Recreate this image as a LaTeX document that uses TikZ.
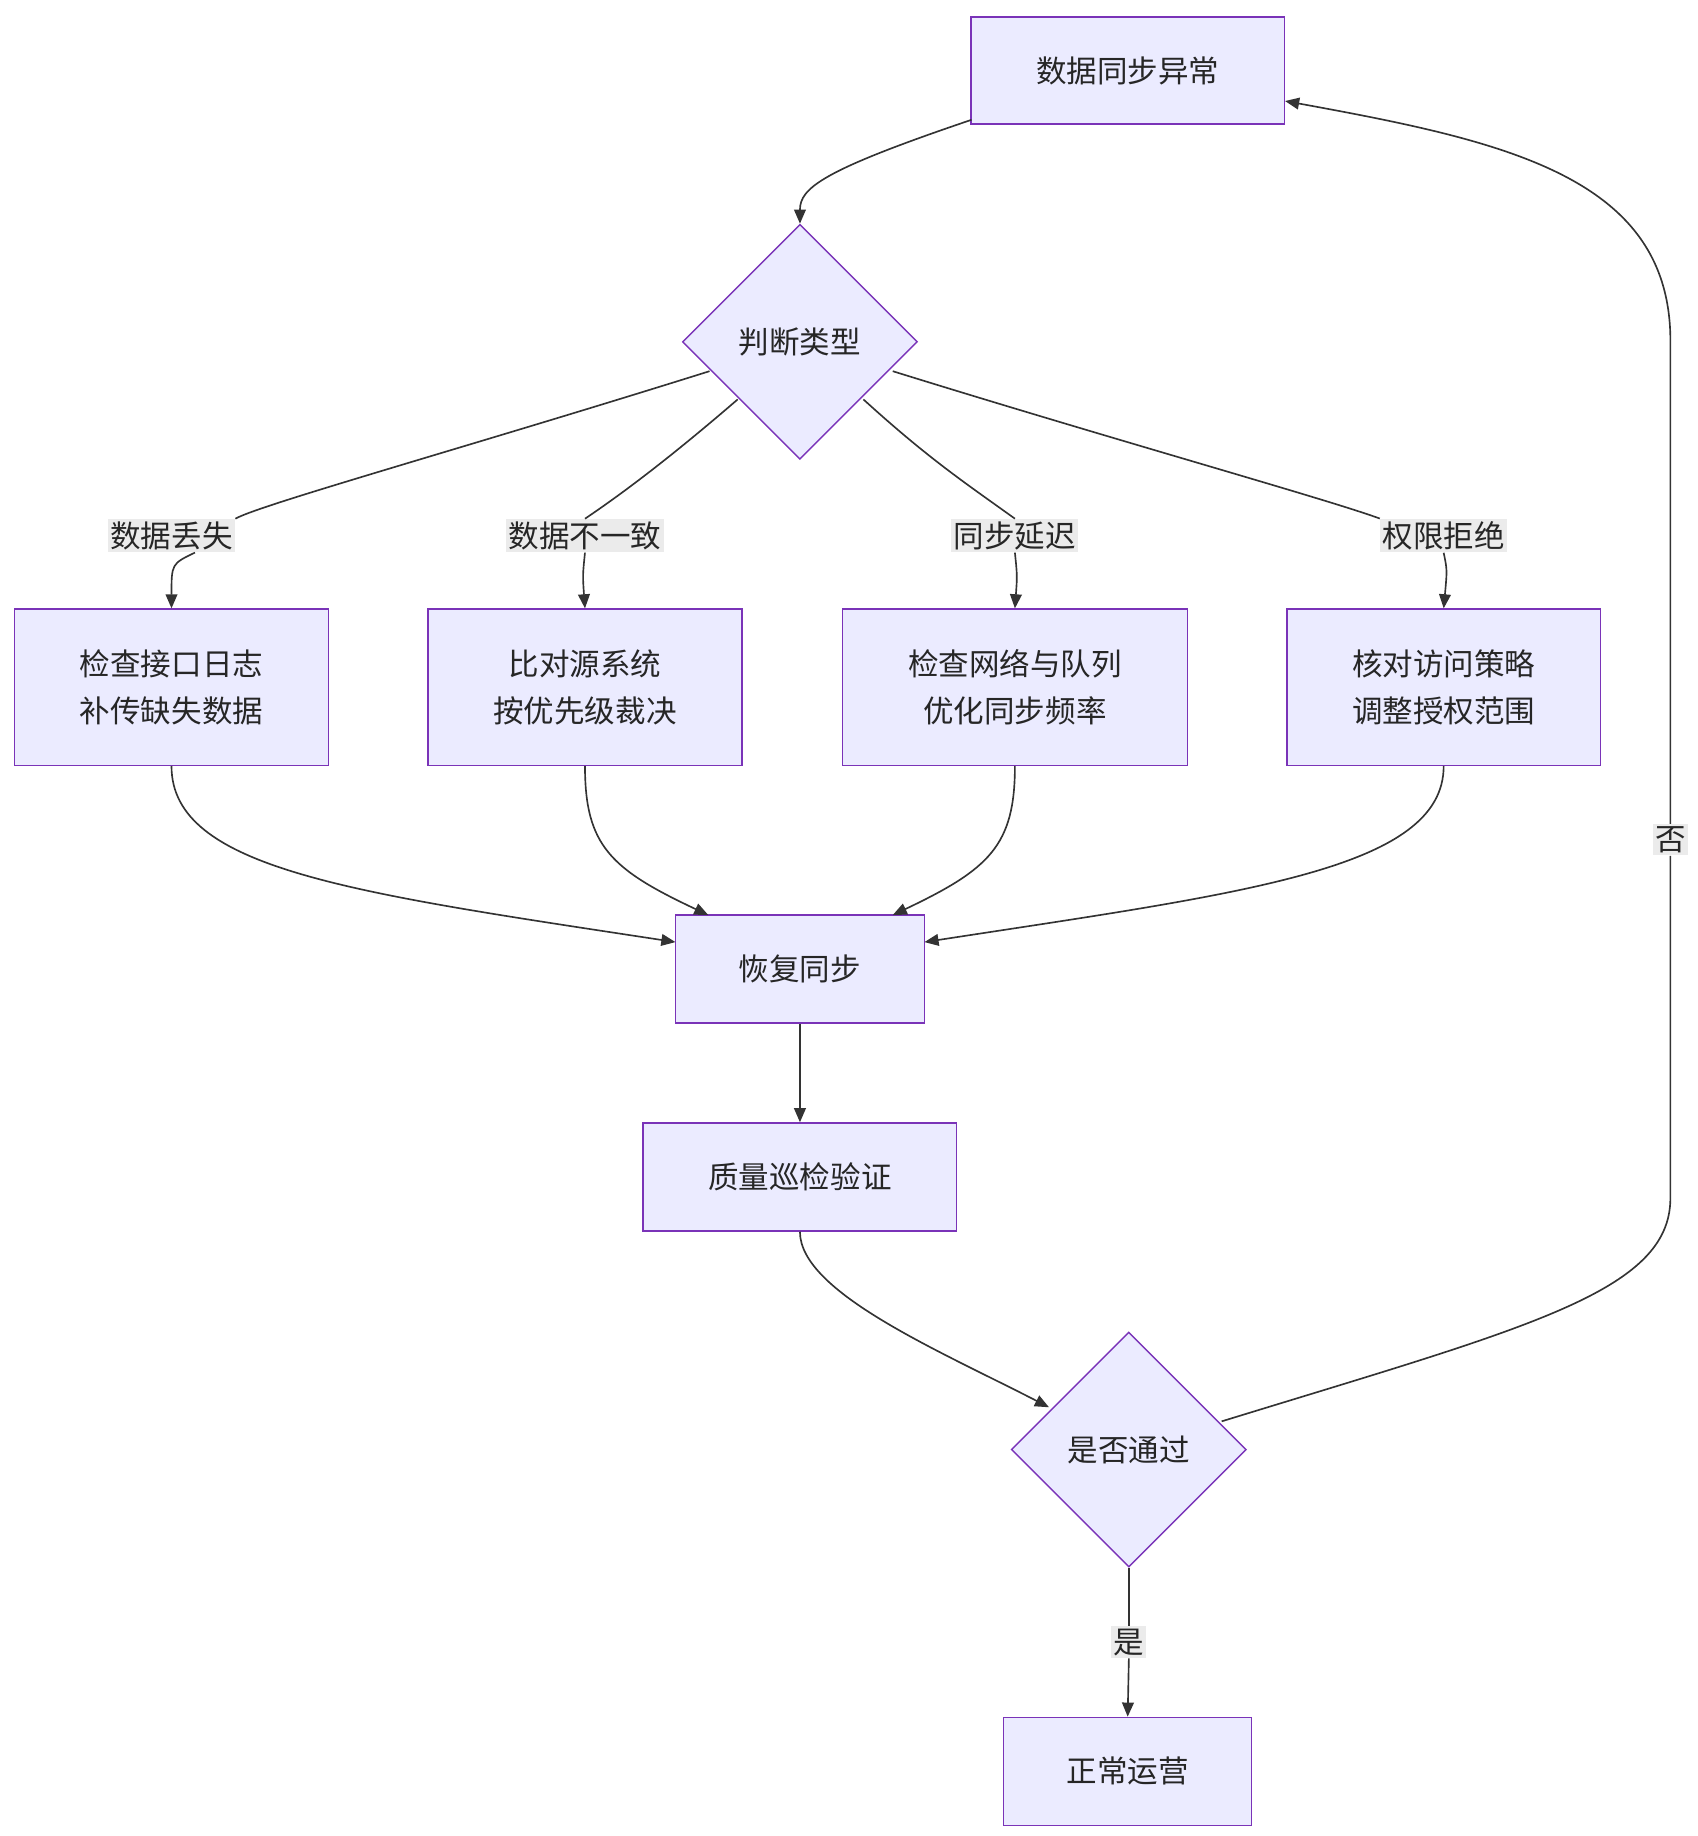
\documentclass[tikz,border=0pt]{standalone}
\usepackage{fontspec}
\setmainfont{Noto Sans CJK SC}
\usetikzlibrary{shapes.geometric,arrows.meta}
\begin{document}
\begin{tikzpicture}[x=0.5pt,y=-0.5pt,
 font=\fontsize{13}{20}\selectfont,
 box/.style={draw=violet!70!blue!80,fill=blue!8,line width=0.6pt,inner sep=0pt,align=center,text=black!85},
 dia/.style={draw=violet!70!blue!80,fill=blue!8,line width=0.6pt,diamond,minimum width=100pt,minimum height=100pt,inner sep=0pt,text=black!85},
 lab/.style={fill=black!8,inner sep=1pt,text=black!85},
 ed/.style={draw=black!80,line width=0.7pt,-{Triangle[length=6pt,width=5pt]}},
 ln/.style={draw=black!80,line width=0.7pt}]
\useasboundingbox (0,0) rectangle (1445,1563);
\node[box,minimum width=133.5pt,minimum height=45.5pt] (a) at (960,60) {数据同步异常};
\node[dia] (b) at (681,291) {判断类型};
\node[box,minimum width=133.5pt,minimum height=66.5pt] (c1) at (146,585) {检查接口日志\\补传缺失数据};
\node[box,minimum width=133.5pt,minimum height=66.5pt] (c2) at (498,585) {比对源系统\\按优先级裁决};
\node[box,minimum width=147pt,minimum height=66.5pt] (c3) at (864,585) {检查网络与队列\\优化同步频率};
\node[box,minimum width=133.5pt,minimum height=66.5pt] (c4) at (1229,585) {核对访问策略\\调整授权范围};
\node[box,minimum width=106pt,minimum height=46pt] (d) at (681,825) {恢复同步};
\node[box,minimum width=133.5pt,minimum height=46pt] (e) at (681,1002) {质量巡检验证};
\node[dia] (f) at (961,1234) {是否通过};
\node[box,minimum width=105.5pt,minimum height=46pt] (g) at (960,1508) {正常运营};
\node[lab] (l1) at (146,456) {数据丢失};
\node[lab] (l2) at (498,456) {数据不一致};
\node[lab] (l3) at (864,456) {同步延迟};
\node[lab] (l4) at (1229,456) {权限拒绝};
\node[lab] (l5) at (1422,715) {否};
\node[lab] (l6) at (961,1398) {是};
\coordinate (ab) at (827,102);
\draw[ed] (ab) .. controls (700,145) and (681,160) .. (b.north);
\draw[ln] (604,316) .. controls (400,380) and (220,430) .. (l1.north east);
\draw[ed] (l1.south) ++(20,0) .. controls (146,480) .. (c1.north);
\draw[ln] (628,340) .. controls (570,390) and (530,420) .. (l2.north);
\draw[ed] (l2.south) .. controls (496,490) .. (c2.north);
\draw[ln] (735,340) .. controls (790,390) and (820,410) .. (l3.north);
\draw[ed] (l3.south) .. controls (866,490) .. (c3.north);
\draw[ln] (760,316) .. controls (950,375) and (1130,425) .. (l4.north west);
\draw[ed] (l4.south) .. controls (1232,485) .. (c4.north);
\draw[ed] (c1.south) .. controls (146,740) and (300,760) .. (575,802);
\draw[ed] (c2.south) .. controls (498,720) and (520,740) .. (603,779);
\draw[ed] (c3.south) .. controls (864,720) and (842,740) .. (760,779);
\draw[ed] (c4.south) .. controls (1229,740) and (1060,760) .. (787,802);
\draw[ed] (d.south) -- (e.north);
\draw[ed] (e.south) .. controls (681,1100) and (800,1150) .. (893,1198);
\draw[ln] (1040,1210) .. controls (1300,1130) and (1422,1100) .. (1422,1020) -- (l5.south);
\draw[ed] (l5.north) -- (1422,290) .. controls (1422,150) and (1280,120) .. (1094,86);
\draw[ln] (f.south) -- (l6.north);
\draw[ed] (l6.south) -- (g.north);
\end{tikzpicture}
\end{document}
